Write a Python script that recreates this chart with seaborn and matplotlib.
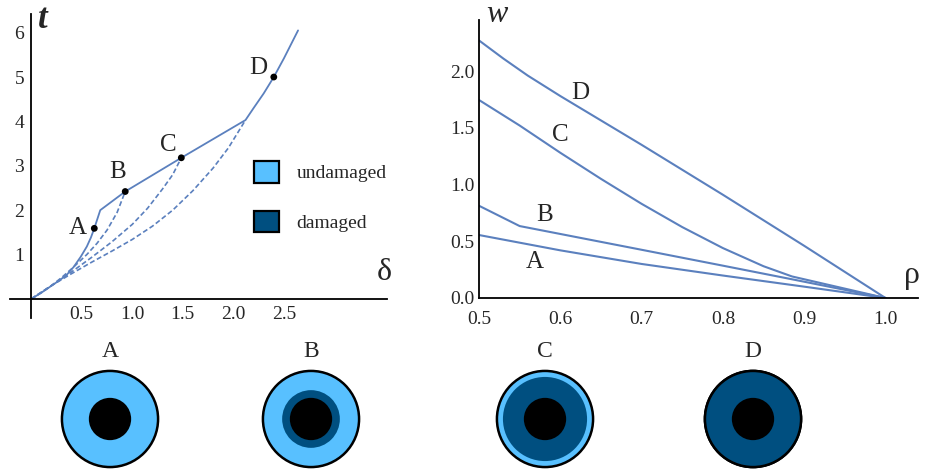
import numpy as np
import matplotlib
matplotlib.use("Agg")
import matplotlib.pyplot as plt
import seaborn as sns
from matplotlib.patches import Patch, Circle

# ---- data ---- #
# left panel: t vs delta
solid_d = [0.0, 0.1, 0.19, 0.28, 0.35, 0.42, 0.49, 0.55, 0.59, 0.624, 0.683, 0.93, 1.485,
           2.12, 2.2, 2.3, 2.4, 2.5, 2.58, 2.64]
solid_t = [0.0, 0.14, 0.28, 0.42, 0.54, 0.72, 0.95, 1.18, 1.38, 1.59, 2.0, 2.42, 3.18,
           4.03, 4.3, 4.63, 5.0, 5.42, 5.78, 6.05]

dashB_d = [0.0, 0.1, 0.2, 0.3, 0.42, 0.55, 0.65, 0.75, 0.85, 0.93]
dashB_t = [0.0, 0.14, 0.3, 0.48, 0.72, 1.0, 1.25, 1.55, 1.95, 2.42]
dashC_d = [0.0, 0.2, 0.4, 0.6, 0.8, 1.0, 1.15, 1.3, 1.4, 1.485]
dashC_t = [0.0, 0.3, 0.61, 0.94, 1.29, 1.68, 2.04, 2.48, 2.8, 3.18]
dashD_d = [0.0, 0.2, 0.4, 0.6, 0.8, 1.0, 1.2, 1.4, 1.6, 1.8, 1.95, 2.12]
dashD_t = [0.0, 0.3, 0.57, 0.83, 1.08, 1.34, 1.64, 2.0, 2.44, 2.95, 3.4, 4.03]

state_names = ["A", "B", "C", "D"]
state_d = [0.624, 0.93, 1.485, 2.40]
state_t = [1.59, 2.42, 3.18, 5.0]

# right panel: w vs rho
rho_A = [0.5, 0.6, 0.7, 0.8, 0.9, 1.0]
w_A = [0.555, 0.42, 0.3, 0.198, 0.1, 0.0]
rho_B = [0.5, 0.55, 0.7, 0.8, 0.885, 1.0]
w_B = [0.813, 0.634, 0.425, 0.285, 0.165, 0.0]
rho_C = [0.5, 0.55, 0.6, 0.65, 0.7, 0.75, 0.8, 0.85, 0.885, 1.0]
w_C = [1.745, 1.52, 1.28, 1.05, 0.83, 0.625, 0.44, 0.28, 0.19, 0.0]
rho_D = [0.5, 0.53, 0.56, 0.6, 0.7, 0.8, 0.9, 1.0]
w_D = [2.27, 2.11, 1.96, 1.78, 1.35, 0.91, 0.46, 0.0]

# bottom: damage front radius relative to outer radius (core = 0.44)
core_r = 0.44
damage_r = [0.44, 0.60, 0.875, 1.0]

light = "#58C0FF"
dark = "#004F80"
line_c = "#5B80BE"

sns.set_theme(style="white")
plt.rcParams["font.family"] = ["Liberation Serif", "DejaVu Serif"]

fig = plt.figure(figsize=(9.26, 4.71), dpi=100)
W, H = 926, 471


def px_axes(x0, y0, x1, y1):
    # rectangle given in pixel coords of the picture (y from top)
    return fig.add_axes([x0 / W, 1 - y1 / H, (x1 - x0) / W, (y1 - y0) / H])


# ---- left panel ---- #
ax = px_axes(10, 14, 387, 318)
ax.set_xlim(-0.21, 3.52)
ax.set_ylim(-0.43, 6.42)
sns.lineplot(x=solid_d, y=solid_t, ax=ax, color=line_c, lw=1.3, sort=False)
for dx, dy in [(dashB_d, dashB_t), (dashC_d, dashC_t), (dashD_d, dashD_t)]:
    sns.lineplot(x=dx, y=dy, ax=ax, color=line_c, lw=1.2, sort=False, linestyle=(0, (3, 1.6)))
sns.scatterplot(x=state_d, y=state_t, ax=ax, color="black", s=24, zorder=5, edgecolor="none")
for name, (tx, ty) in zip(state_names, [(0.46, 1.6), (0.85, 2.86), (1.36, 3.47), (2.25, 5.2)]):
    ax.text(tx, ty, name, fontsize=18, ha="center", va="center")

for s in ["top", "right"]:
    ax.spines[s].set_visible(False)
ax.spines["left"].set_position(("data", 0))
ax.spines["bottom"].set_position(("data", 0))
for s in ["left", "bottom"]:
    ax.spines[s].set_color("black")
    ax.spines[s].set_linewidth(1.3)
ax.set_xticks([0.5, 1.0, 1.5, 2.0, 2.5])
ax.set_xticklabels(["0.5", "1.0", "1.5", "2.0", "2.5"])
ax.set_yticks([1, 2, 3, 4, 5, 6])
ax.tick_params(length=0, labelsize=14, pad=5)
ax.set_xlabel("")
ax.set_ylabel("")
ax.text(0.11, 6.3, "t", fontsize=25, style="italic", fontweight="bold", ha="center", va="center")
ax.text(3.49, 0.6, "δ", fontsize=23, ha="center", va="center")

handles = [Patch(facecolor=light, edgecolor="black", lw=1.6, label="undamaged"),
           Patch(facecolor=dark, edgecolor="black", lw=1.6, label="damaged")]
ax.legend(handles=handles, loc="upper left", bbox_to_anchor=(2.2, 3.1),
          bbox_transform=ax.transData, frameon=False, fontsize=14,
          handlelength=1.3, handleheight=1.3, labelspacing=1.45,
          handletextpad=0.9, borderpad=0, borderaxespad=0)

# ---- right panel ---- #
ax2 = px_axes(479, 20, 918, 298)
ax2.set_xlim(0.5, 1.04)
ax2.set_ylim(0, 2.45)
for rx, wy in [(rho_A, w_A), (rho_B, w_B), (rho_C, w_C), (rho_D, w_D)]:
    sns.lineplot(x=rx, y=wy, ax=ax2, color=line_c, lw=1.5, sort=False)
for name, (tx, ty) in zip(state_names, [(0.569, 0.32), (0.581, 0.73), (0.6, 1.44), (0.624, 1.81)]):
    ax2.text(tx, ty, name, fontsize=18, ha="center", va="center")
for s in ["top", "right"]:
    ax2.spines[s].set_visible(False)
for s in ["left", "bottom"]:
    ax2.spines[s].set_color("black")
    ax2.spines[s].set_linewidth(1.3)
ax2.set_xticks([0.5, 0.6, 0.7, 0.8, 0.9, 1.0])
ax2.set_yticks([0.0, 0.5, 1.0, 1.5, 2.0])
ax2.set_xticklabels(["0.5", "0.6", "0.7", "0.8", "0.9", "1.0"])
ax2.set_yticklabels(["0.0", "0.5", "1.0", "1.5", "2.0"])
ax2.tick_params(axis="y", length=0, labelsize=14, pad=3)
ax2.tick_params(axis="x", length=0, labelsize=14, pad=9)
ax2.set_xlabel("")
ax2.set_ylabel("")
ax2.text(0.522, 2.5, "w", fontsize=23, style="italic", ha="center", va="center", clip_on=False)
ax2.text(1.033, 0.2, "ρ", fontsize=23, ha="center", va="center", clip_on=False)

# ---- bottom: cross sections ---- #
centers = [110, 311, 545, 753]
for cx, name, dr in zip(centers, state_names, damage_r):
    cax = px_axes(cx - 50, 419 - 50, cx + 50, 419 + 50)
    cax.set_xlim(-1.04, 1.04)
    cax.set_ylim(-1.04, 1.04)
    cax.set_aspect("equal")
    cax.axis("off")
    cax.add_patch(Circle((0, 0), 1.0, facecolor=light, edgecolor="black", lw=1.8, zorder=1))
    if dr > core_r:
        cax.add_patch(Circle((0, 0), min(dr, 0.985), facecolor=dark, edgecolor="none", zorder=2))
    cax.add_patch(Circle((0, 0), core_r, facecolor="black", edgecolor="none", zorder=3))
    if dr >= 1.0:
        cax.add_patch(Circle((0, 0), 1.0, facecolor="none", edgecolor="black", lw=1.8, zorder=4))
    cax.text(0, 1.4, name, fontsize=17, ha="center", va="center", clip_on=False)

fig.savefig("out.png", dpi=100)
